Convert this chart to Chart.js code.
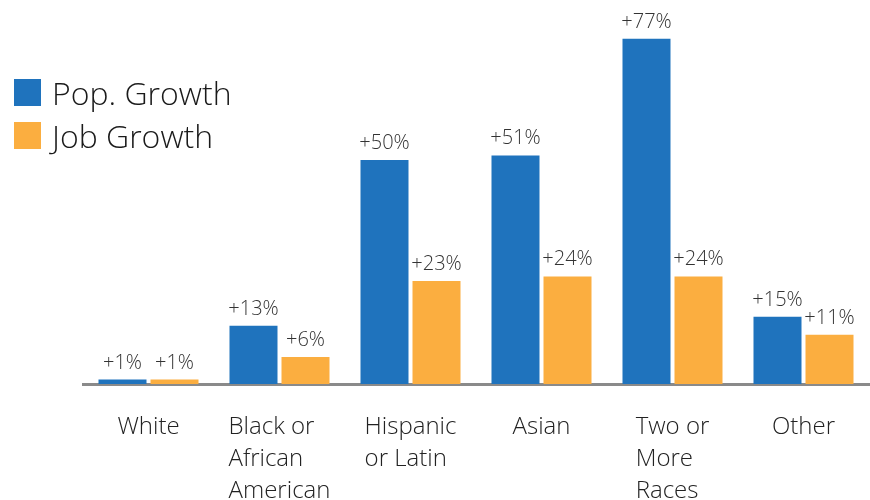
<!DOCTYPE html>
<html>
<head>
<meta charset="utf-8">
<script src="https://cdn.jsdelivr.net/npm/chart.js@4/dist/chart.umd.min.js"></script>
<style>
  html, body { margin: 0; padding: 0; background: #fff; }
  #wrap { position: relative; width: 870px; height: 500px; }
  #legend { position: absolute; left: 14px; top: 71px; font-family: "Open Sans", sans-serif; font-weight: 300; color: #1a1a1a; }
  .item { display: flex; align-items: center; height: 43px; font-size: 32px; }
  .item span.box { display: inline-block; width: 27px; height: 27px; margin-right: 11px; }
</style>
</head>
<body>
<div id="wrap">
  <canvas id="chart" width="870" height="500"></canvas>
  <div id="legend"></div>
</div>
<script>
const categories = [
    ["White"],
    ["Black or", "African", "American"],
    ["Hispanic", "or Latin"],
    ["Asian"],
    ["Two or", "More", "Races"],
    ["Other"]
];
const seriesNames = ["Pop. Growth", "Job Growth"];
const popGrowth = [1, 13, 50, 51, 77, 15];
const jobGrowth = [1, 6, 23, 24, 24, 11];
const colors = ["#1f73bd", "#fbae40"];

const FONT = '"Open Sans", sans-serif';

// value labels over every bar, e.g. "+50%"
const barLabels = {
    id: "barLabels",
    afterDatasetsDraw(chart) {
        const ctx = chart.ctx;
        ctx.save();
        ctx.font = "300 20px " + FONT;
        ctx.fillStyle = "#333";
        ctx.textAlign = "center";
        ctx.textBaseline = "alphabetic";
        chart.data.datasets.forEach((ds, i) => {
            chart.getDatasetMeta(i).data.forEach((bar, j) => {
                ctx.fillText("+" + ds.data[j] + "%", bar.x, bar.y - 11);
            });
        });
        ctx.restore();
    }
};

// category names under the axis, lines left-aligned inside a centred block
const categoryLabels = {
    id: "categoryLabels",
    afterDraw(chart) {
        const ctx = chart.ctx;
        const xs = chart.scales.x;
        ctx.save();
        ctx.font = "300 24px " + FONT;
        ctx.fillStyle = "#222";
        ctx.textAlign = "left";
        ctx.textBaseline = "alphabetic";
        categories.forEach((lines, i) => {
            const cx = xs.getPixelForValue(i);
            const w = Math.max(...lines.map(l => ctx.measureText(l).width));
            lines.forEach((l, k) => {
                ctx.fillText(l, cx - w / 2, chart.chartArea.bottom + 50 + k * 32);
            });
        });
        ctx.restore();
    }
};

const chart = new Chart(document.getElementById("chart"), {
    type: "bar",
    data: {
        labels: categories.map(c => c.join(" ")),
        datasets: [
            { label: seriesNames[0], data: popGrowth, backgroundColor: colors[0] },
            { label: seriesNames[1], data: jobGrowth, backgroundColor: colors[1] }
        ]
    },
    options: {
        responsive: false,
        animation: false,
        categoryPercentage: 0.794,
        barPercentage: 0.923,
        layout: { padding: { left: 83, right: 1, top: 3, bottom: 116 } },
        plugins: {
            legend: { display: false },
            tooltip: { enabled: false }
        },
        scales: {
            x: {
                grid: { display: false, drawTicks: false },
                border: { display: true, color: "#8a8a8a", width: 3 },
                ticks: { display: false }
            },
            y: {
                display: false,
                min: 0,
                max: 85
            }
        }
    },
    plugins: [barLabels, categoryLabels]
});

// legend built from the series names and colours
const legend = document.getElementById("legend");
seriesNames.forEach((name, i) => {
    const row = document.createElement("div");
    row.className = "item";
    row.innerHTML = `<span class="box" style="background:${colors[i]}"></span>${name}`;
    legend.appendChild(row);
});
</script>
</body>
</html>
